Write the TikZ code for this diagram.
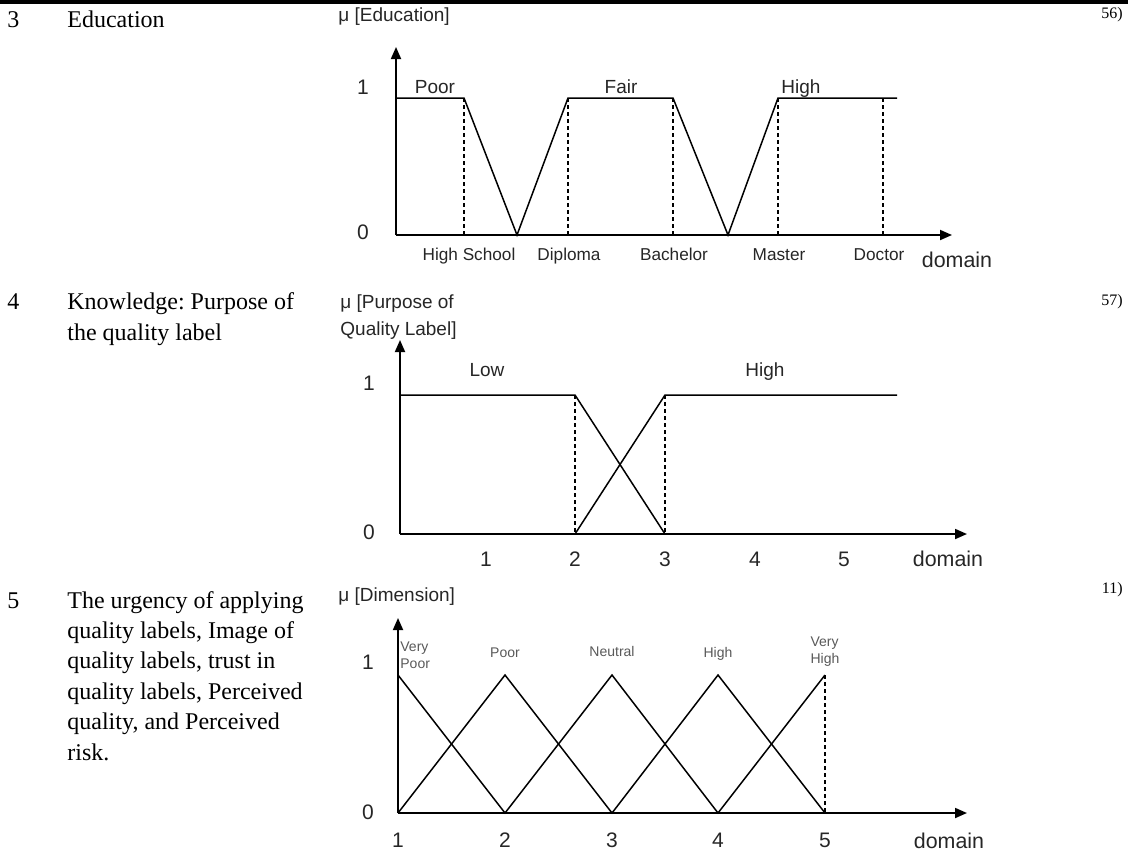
\documentclass[tikz,border=0pt]{standalone}
\usepackage{fontspec}
\setmainfont{Liberation Serif}
\setsansfont{Liberation Sans}
\usetikzlibrary{arrows.meta}
\frenchspacing

\begin{document}
\begin{tikzpicture}[x=0.5pt,y=-0.5pt,>={Triangle[length=6pt,width=5pt]},
		axis/.style={->,line width=0.9pt},
		mf/.style={line width=0.75pt},
		guide/.style={line width=0.75pt,dash pattern=on 2pt off 1.5pt},
		term/.style={font=\sffamily\fontsize{9.5}{13.5}\selectfont,text=black!85,inner sep=0pt,anchor=base},
		small/.style={font=\sffamily\fontsize{7}{8.5}\selectfont,text=black!65,inner sep=0pt,align=left,anchor=base},
		tick/.style={font=\sffamily\fontsize{10.5}{12}\selectfont,text=black!85,inner sep=0pt},
		edu/.style={font=\sffamily\fontsize{8.6}{10}\selectfont,text=black!85,inner sep=0pt,anchor=base},
		dom/.style={font=\sffamily\fontsize{10.7}{12}\selectfont,text=black!85,inner sep=0pt,anchor=base},
		row/.style={font=\fontsize{12}{15.2}\selectfont,inner sep=0pt,align=left,anchor=base west},
		note/.style={font=\fontsize{8}{9}\selectfont,inner sep=0pt,anchor=east}]
	\useasboundingbox (0,0) rectangle (1128,852);
	\fill (0,0) rectangle (1128,4);
	\node[row] (n3) at (7,27) {3};
	\node[row] (t3) at (67,27) {Education};
	\node[row] (n4) at (7,309) {4};
	\node[row] (t4) at (67,340) {Knowledge: Purpose of\\the quality label};
	\node[row] (n5) at (7,608) {5};
	\node[row] (t5) at (67,760) {The urgency of applying\\quality labels, Image of\\quality labels, trust in\\quality labels, Perceived\\quality, and Perceived\\risk.};
	\node[note] (r3) at (1123,15) {56)};
	\node[note] (r4) at (1123,302) {57)};
	\node[note] (r5) at (1123,590) {11)};

	\node[term,anchor=west] (mu1) at (338,17) {μ [Education]};
	\coordinate (o1) at (396,235);
	\draw[axis] (o1) -- (396,47);
	\draw[axis] (o1) -- (952,235);
	\node[tick] (one1) at (363,87) {1};
	\node[tick] (zero1) at (363,232) {0};
	\draw[mf] (396,98) -- (464,98) -- (517,235) -- (568,98) -- (673,98) -- (728,235) -- (778,98) -- (897,98);
	\foreach \x in {464,568,673,778,883}
		\draw[guide] (\x,98) -- (\x,235);
	\node[term] (poor1) at (435,93) {Poor};
	\node[term] (fair1) at (621,93) {Fair};
	\node[term] (high1) at (801,93) {High};
	\foreach \x/\t in {469/High School,569/Diploma,674/Bachelor,779/Master,879/Doctor}
		\node[edu] (e\x) at (\x,260) {\t};
	\node[dom] (dom1) at (957,267) {domain};

	\node[term,anchor=north west,align=left] (mu2) at (340,294) {μ [Purpose of\\Quality Label]};
	\coordinate (o2) at (400,534);
	\draw[axis] (o2) -- (400,340);
	\draw[axis] (o2) -- (967,534);
	\node[tick] (one2) at (369,383) {1};
	\node[tick] (zero2) at (369,532) {0};
	\draw[mf] (400,395) -- (575,395) -- (665,534);
	\draw[mf] (575,534) -- (665,395) -- (897,395);
	\foreach \x in {575,665}
		\draw[guide] (\x,395) -- (\x,534);
	\node[term] (low2) at (487,376) {Low};
	\node[term] (high2) at (765,376) {High};
	\foreach \x/\t in {486/1,575/2,665/3,755/4,844/5}
		\node[tick] (k\t) at (\x,559) {\t};
	\node[dom] (dom2) at (948,566) {domain};

	\node[term,anchor=west] (mu3) at (338,597) {μ [Dimension]};
	\coordinate (o3) at (398,813);
	\draw[axis] (o3) -- (398,618);
	\draw[axis] (o3) -- (967,813);
	\node[tick] (one3) at (368,662) {1};
	\node[tick] (zero3) at (368,812) {0};
	\draw[mf] (398,675) -- (505,813) -- (612,675) -- (718,813) -- (825,675);
	\draw[mf] (398,813) -- (505,675) -- (612,813) -- (718,675) -- (825,813);
	\draw[guide] (825,675) -- (825,813);
	\node[small,anchor=base west] (vpoor) at (400,668) {Very\\Poor};
	\node[small] (poor3) at (505,657) {Poor};
	\node[small] (neut3) at (612,656) {Neutral};
	\node[small] (high3) at (718,657) {High};
	\node[small] (vhigh) at (825,663) {Very\\High};
	\foreach \x/\t in {398/1,505/2,612/3,718/4,825/5}
		\node[tick] (d\t) at (\x,840) {\t};
	\node[dom] (dom3) at (949,848) {domain};
\end{tikzpicture}
\end{document}
